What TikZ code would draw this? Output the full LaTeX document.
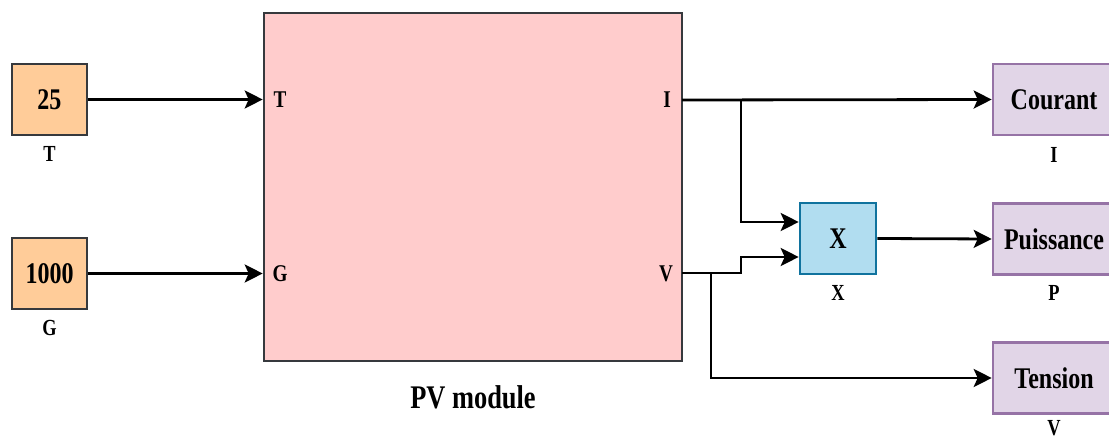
\documentclass[tikz,border=0pt]{standalone}
\usepackage{fontspec}
\setmainfont{Liberation Serif}[FakeStretch=0.8]
\usetikzlibrary{arrows.meta}
\definecolor{orfill}{HTML}{FFCC99}
\definecolor{dkstroke}{HTML}{36393D}
\definecolor{pvfill}{HTML}{FFCCCC}
\definecolor{bluefill}{HTML}{B1DDF0}
\definecolor{bluestroke}{HTML}{10739E}
\definecolor{purfill}{HTML}{E1D5E7}
\definecolor{purstroke}{HTML}{9673A6}
\tikzset{
  blk/.style={draw, line width=1.3pt, inner sep=0pt, font=\bfseries\fontsize{15}{17}\selectfont},
  srcbox/.style={blk, fill=orfill, draw=dkstroke, minimum width=37.5pt, minimum height=35.5pt},
  outbox/.style={blk, fill=purfill, draw=purstroke, minimum width=61pt, minimum height=35.5pt},
  mulbox/.style={blk, fill=bluefill, draw=bluestroke, minimum width=38pt, minimum height=35.5pt},
  lbl/.style={font=\bfseries\fontsize{11.5}{13}\selectfont, inner sep=0pt},
  port/.style={font=\bfseries\fontsize{12}{14}\selectfont, inner sep=0pt},
  arr/.style={line width=1.4pt, -{Stealth[length=9pt,width=9pt,inset=2pt]}},
  wire/.style={line width=1.4pt}
}
\begin{document}
\begin{tikzpicture}[x=0.5pt,y=-0.5pt]
\useasboundingbox (0,0) rectangle (1109,438);
\clip (0,0) rectangle (1109,438);
% blocks
\node[blk, fill=pvfill, draw=dkstroke, minimum width=209pt, minimum height=174pt] (pv) at (473,187) {};
\node[srcbox] (t25) at (49.5,99.5) {25};
\node[srcbox] (g1000) at (49.5,273.5) {1000};
\node[mulbox] (xb) at (838,238.5) {X};
\node[outbox] (cour) at (1054,99.5) {Courant};
\node[outbox] (puis) at (1054,239) {Puissance};
\node[outbox] (tens) at (1054,378) {Tension};
% labels
\node[lbl] (lt) at (49.5,154) {T};
\node[lbl] (lg) at (49.5,328) {G};
\node[lbl] (lx) at (838,293) {X};
\node[lbl] (li) at (1054,155) {I};
\node[lbl] (lp) at (1054,293) {P};
\node[lbl] (lv) at (1054,428) {V};
\node[font=\bfseries\fontsize{16.5}{19}\selectfont, inner sep=0pt] (lpv) at (473,397) {PV module};
% ports
\node[port] (pt) at (280,100) {T};
\node[port] (pg) at (280,274) {G};
\node[port] (pi) at (667,100) {I};
\node[port] (pvv) at (666,274) {V};
% coordinates
\coordinate (oI) at (682,100);
\coordinate (oV) at (682,273);
\coordinate (jI) at (741,100);
\coordinate (jV) at (711,273);
% connectors
\draw[arr] (t25.east) -- (t25.east -| pv.west);
\draw[arr] (g1000.east) -- (g1000.east -| pv.west);
\draw[arr] (oI) -- (cour.west);
\draw[arr] (jI) -- (741,222) -- (xb.west |- 0,222);
\draw[arr] (oV) -- (741,273) -- (741,257) -- (xb.west |- 0,257);
\draw[arr] (jV) -- (tens.west -| jV) -- (tens.west);
\draw[arr] (xb.east) -- (puis.west);
\end{tikzpicture}
\end{document}
